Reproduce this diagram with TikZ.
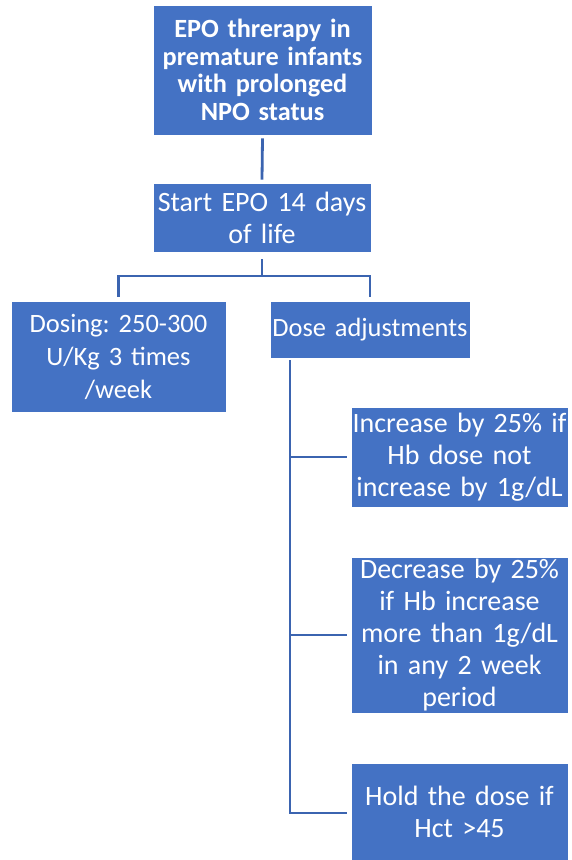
\documentclass[tikz,border=0pt]{standalone}
\usepackage{fontspec}
\setmainfont{Carlito}
\frenchspacing
\definecolor{boxblue}{HTML}{4472C4}
\definecolor{lineblue}{HTML}{3B64B0}
\tikzset{
  box/.style={draw=white, line width=0.6pt, fill=boxblue, text=white, align=center, inner sep=0pt, anchor=center},
  plain/.style={font=\fontsize{28}{32}\selectfont},
  boldtxt/.style={font=\fontsize{26.3}{27.5}\selectfont\bfseries},
  conn/.style={draw=lineblue, line width=2.8pt}
}
\begin{document}
\begin{tikzpicture}[x=1pt,y=1pt]
\useasboundingbox (0,0) rectangle (571,-860);
\fill[white] (0,0) rectangle (571,-860);
\node[box, boldtxt, minimum width=219pt, minimum height=130pt, text width=219pt] (top) at (262.5,-70) {EPO threrapy in\\premature infants\\with prolonged\\NPO status};
\node[box, plain, minimum width=218pt, minimum height=69pt, text width=218pt] (start) at (262,-217.5) {Start EPO 14 days\\of life};
\node[box, plain, font=\fontsize{26.5}{33}\selectfont, minimum width=215pt, minimum height=111pt, text width=215pt] (dosing) at (118.5,-356.5) {Dosing: 250-300\\U/Kg 3 times\\/week};
\node[box, plain, font=\fontsize{26.4}{32}\selectfont, minimum width=200pt, minimum height=57pt, text width=200pt] (adj) at (370,-329.5) {Dose adjustments};
\node[box, plain, minimum width=217pt, minimum height=100pt, text width=217pt] (inc) at (459.5,-457) {Increase by 25\% if\\Hb dose not\\increase by 1g/dL};
\node[box, plain, minimum width=217pt, minimum height=156pt, text width=217pt] (dec) at (459.5,-635) {Decrease by 25\%\\if Hb increase\\more than 1g/dL\\in any 2 week\\period};
\node[box, plain, minimum width=217pt, minimum height=97pt, text width=217pt] (hold) at (459.5,-811.5) {Hold the dose if\\Hct >45};
\coordinate (junc) at (262,-276);
\coordinate (spine) at (290,-360);
\draw[conn] ([yshift=-3pt]top.south) -- ([yshift=3pt]start.north);
\draw[conn] ([yshift=-7pt]start.south) -- (junc);
\draw[conn] (junc) -| ([yshift=4pt]dosing.north);
\draw[conn] (junc) -| ([yshift=4pt]adj.north);
\draw[conn] (spine) |- ([xshift=-4pt]inc.west);
\draw[conn] (spine) |- ([xshift=-4pt]dec.west);
\draw[conn] (spine) |- ([xshift=-4pt,yshift=-1.5pt]hold.west);
\end{tikzpicture}
\end{document}
